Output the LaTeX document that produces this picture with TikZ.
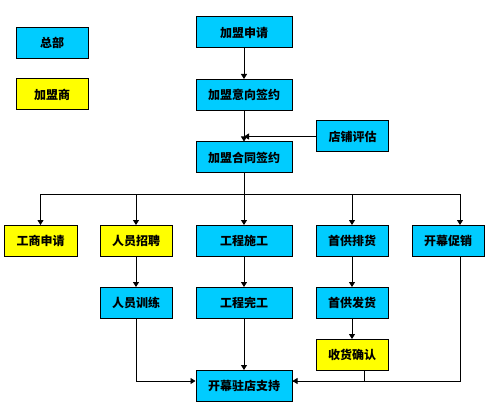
\documentclass[tikz,border=0pt]{standalone}
\usepackage{fontspec}
\newfontfamily\cjk{Noto Sans CJK SC}
\usetikzlibrary{arrows.meta}
\definecolor{hqblue}{RGB}{0,204,255}
\definecolor{shopyellow}{RGB}{255,255,0}

\begin{document}
\begin{tikzpicture}[x=1pt,y=-1pt,
  box/.style={draw,line width=1pt,minimum width=72pt,minimum height=31pt,inner sep=0pt,
    font=\cjk\bfseries\fontsize{12}{12}\selectfont},
  hq/.style={box,fill=hqblue},
  shop/.style={box,fill=shopyellow},
  wide/.style={minimum width=96pt},
  link/.style={line width=0.8pt,-{Triangle[width=6pt,length=5pt]}}]
\useasboundingbox (0,0) rectangle (492,414);
% legend
\node[hq] (legendhq) at (52,43) {总部};
\node[shop] (legendshop) at (52,94.5) {加盟商};
% main column
\node[hq,wide] (apply) at (244,32.5) {加盟申请};
\node[hq,wide] (intent) at (244,95) {加盟意向签约};
\node[hq] (assess) at (352.5,136.5) {店铺评估};
\node[hq,wide] (contract) at (244,157.5) {加盟合同签约};
% second row
\node[shop,minimum width=73pt] (license) at (40.5,241) {工商申请};
\node[shop] (recruit) at (136,241) {人员招聘};
\node[hq,wide] (build) at (244,241) {工程施工};
\node[hq] (stock) at (352,241) {首供排货};
\node[hq] (promo) at (448,241) {开幕促销};
% third row
\node[hq] (train) at (136,303) {人员训练};
\node[hq,wide] (finish) at (244,303) {工程完工};
\node[hq] (ship) at (352,303) {首供发货};
\node[shop] (receive) at (352,355) {收货确认};
\node[hq,wide] (support) at (244,386) {开幕驻店支持};

\draw[link] (apply) -- (intent);
\draw[link] (intent) -- (contract);
\draw[link] (assess) -- (assess -| contract.north);
\coordinate (fork) at (244,194);
\draw[line width=0.8pt] (contract) -- (fork);
\draw[link] (fork) -| (license.north);
\draw[link] (fork) -| (recruit.north);
\draw[link] (fork) -- (build.north);
\draw[link] (fork) -| (stock.north);
\draw[link] (fork) -| ([xshift=12pt]promo.north);
\draw[link] (recruit) -- (train);
\draw[link] (build) -- (finish);
\draw[link] (stock) -- (ship);
\draw[link] (ship) -- (receive);
\draw[link] (finish) -- (support);
\draw[link] (train.south) |- ([yshift=5pt]support.west);
\draw[link] ([xshift=12pt]promo.south) |- ([yshift=5pt]support.east);
\draw[line width=0.8pt] ([xshift=12pt]receive.south) |- ([yshift=5pt]support.east);
\end{tikzpicture}
\end{document}
